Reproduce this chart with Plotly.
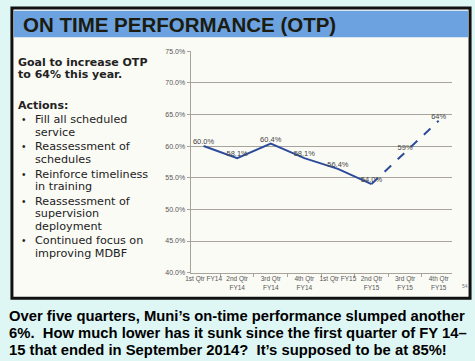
import plotly.graph_objects as go

W, H = 475, 361

categories = ["1st Qtr FY14", "2nd Qtr<br>FY14", "3rd Qtr<br>FY14", "4th Qtr<br>FY14",
              "1st Qtr FY15", "2nd Qtr<br>FY15", "3rd Qtr<br>FY15", "4th Qtr<br>FY15"]
actual_cats = categories[:6]
actual_otp = [60.0, 58.1, 60.4, 58.1, 56.4, 54.0]
proj_cats = categories[5:]
proj_otp = [54.0, 59, 64]

title_text = "ON TIME PERFORMANCE (OTP)"
goal_lines = ["Goal to increase OTP", "to 64% this year."]
bullets = [["Fill all scheduled", "service"],
           ["Reassessment of", "schedules"],
           ["Reinforce timeliness", "in training"],
           ["Reassessment of", "supervision", "deployment"],
           ["Continued focus on", "improving MDBF"]]
caption_lines = ["Over five quarters, Muni\u2019s on-time performance slumped another",
                 "6%.  How much lower has it sunk since the first quarter of FY 14\u2013",
                 "15 that ended in September 2014?  It\u2019s supposed to be at 85%!"]

def px(x):
    return x / W

def py(y):
    return 1 - y / H

LINE = "#2d4b9b"
FONT = "Liberation Sans, Arial, sans-serif"
WIDE = "DejaVu Sans, sans-serif"

fig = go.Figure()
fig.add_trace(go.Scatter(
    x=actual_cats, y=actual_otp, mode="lines+text",
    line=dict(color=LINE, width=2),
    text=[f"{v:.1f}%" for v in actual_otp], textposition="top center",
    textfont=dict(size=7.5, color="#444", family=FONT),
    hoverinfo="skip", showlegend=False))
fig.add_trace(go.Scatter(
    x=proj_cats, y=proj_otp, mode="lines+text",
    line=dict(color=LINE, width=2, dash="dash"),
    text=[""] + [f"{v:.0f}%" for v in proj_otp[1:]], textposition="top center",
    textfont=dict(size=7.5, color="#444", family=FONT),
    hoverinfo="skip", showlegend=False))

shapes = [
    dict(type="rect", xref="paper", yref="paper", x0=px(7), x1=px(470), y0=py(4), y1=py(300),
         fillcolor="#fbfbf6", line=dict(color="#111", width=3), layer="below"),
    dict(type="rect", xref="paper", yref="paper", x0=px(9), x1=px(468), y0=py(7), y1=py(34),
         fillcolor="#6ca2df", line=dict(width=0), layer="below"),
]

ann = []
def add_text(x, y, t, size, family=FONT, color="#222"):
    ann.append(dict(x=px(x), y=py(y), xref="paper", yref="paper", text=t,
                    showarrow=False, xanchor="left", yanchor="middle", align="left",
                    borderpad=0, font=dict(size=size, color=color, family=family)))

add_text(17, 21, f"<b>{title_text}</b>", 20.5, color="#1b1b10")
add_text(12, 59.5, f"<b>{goal_lines[0]}</b>", 11, family=WIDE)
add_text(12, 71.5, f"<b>{goal_lines[1]}</b>", 11, family=WIDE)
add_text(12, 104, "<b>Actions:</b>", 11, family=WIDE)
y = 118
for b in bullets:
    add_text(16, y, "\u2022", 10)
    for j, t in enumerate(b):
        add_text(29, y + 12.7 * j, t, 11.2, family=WIDE)
    y += 12.7 * (len(b) - 1) + 15
for i, t in enumerate(caption_lines):
    add_text(3, 318.5 + 17 * i, f"<b>{t}</b>", 14.8, color="#000")
add_text(461, 288, "54", 5, color="#777")

fig.update_layout(
    width=W, height=H,
    margin=dict(l=0, r=0, t=0, b=0),
    paper_bgcolor="#def7f5", plot_bgcolor="rgba(0,0,0,0)",
    shapes=shapes, annotations=ann,
    font=dict(family=FONT),
    xaxis=dict(domain=[px(187.5), px(451.5)], type="category",
               categoryorder="array", categoryarray=categories,
               showgrid=False, showline=True, linecolor="#a8a49c", linewidth=1,
               ticks="outside", tickson="boundaries", ticklen=3, tickcolor="#a8a49c",
               tickangle=0,
               tickfont=dict(size=6.5, color="#555", family=FONT), zeroline=False),
    yaxis=dict(domain=[py(274), py(48)], range=[40, 75], dtick=5,
               tickformat=".1f", ticksuffix="%",
               showgrid=True, gridcolor="#a8a49c", gridwidth=1,
               showline=True, linecolor="#a8a49c", linewidth=1,
               ticks="outside", ticklen=3, tickcolor="#a8a49c",
               tickfont=dict(size=7, color="#555", family=FONT), zeroline=False),
)

fig.write_html("out.html", config={"displayModeBar": False},
               post_script="document.body.style.margin='0';document.body.style.background='#def7f5';")
